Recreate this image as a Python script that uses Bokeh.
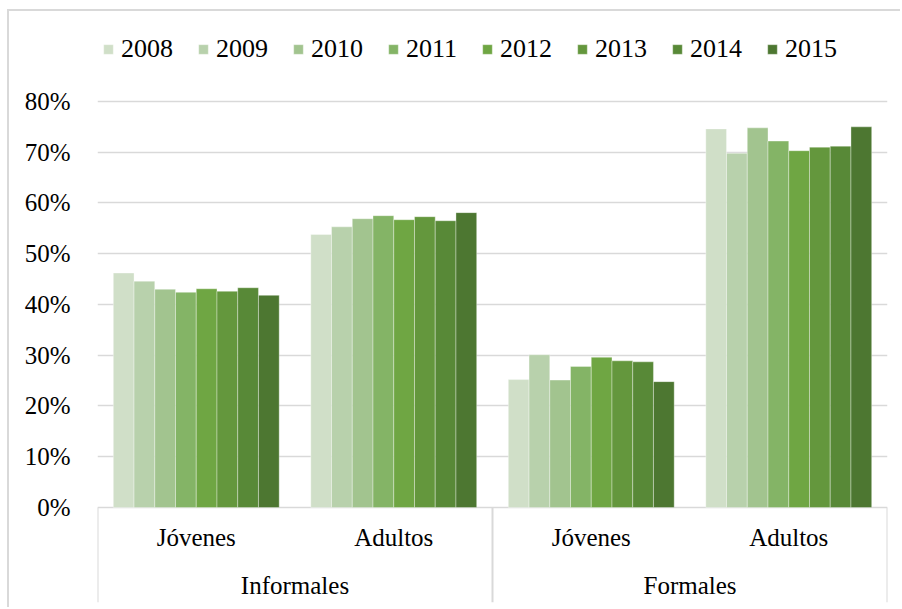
from bokeh.plotting import figure
from bokeh.models import FactorRange, ColumnDataSource, FixedTicker, NumeralTickFormatter
from bokeh.transform import dodge
from bokeh.core.properties import value
from bokeh.embed import file_html
from bokeh.resources import INLINE

# ---------------- data ----------------
groups = ["Informales", "Formales"]
subgroups = ["Jóvenes", "Adultos"]
years = ["2008", "2009", "2010", "2011", "2012", "2013", "2014", "2015"]

informales_jovenes = [0.462, 0.446, 0.430, 0.424, 0.431, 0.426, 0.433, 0.418]
informales_adultos = [0.538, 0.553, 0.569, 0.575, 0.567, 0.573, 0.565, 0.581]
formales_jovenes = [0.252, 0.301, 0.251, 0.278, 0.296, 0.289, 0.287, 0.248]
formales_adultos = [0.746, 0.698, 0.748, 0.722, 0.703, 0.710, 0.712, 0.750]

y_ticks = [0.0, 0.1, 0.2, 0.3, 0.4, 0.5, 0.6, 0.7, 0.8]

colors = ["#D0DFC8", "#B8D1AC", "#A2C48F", "#84B466",
          "#6FA643", "#64973D", "#588937", "#4D7731"]

# ---------------- build ----------------
factors = [(g, s) for g in groups for s in subgroups]
series_by_cat = [informales_jovenes, informales_adultos, formales_jovenes, formales_adultos]

data = {"cat": factors}
for i, y in enumerate(years):
    data[y] = [s[i] for s in series_by_cat]
src = ColumnDataSource(data)

FONT = "Liberation Serif"
GRID = "#D9D9D9"
Y_START, Y_END = -0.1872, 0.9773

p = figure(
    width=893, height=598,
    x_range=FactorRange(*factors, factor_padding=0, group_padding=0, subgroup_padding=0,
                        range_padding=0),
    y_range=(Y_START, Y_END),
    x_axis_location=None,
    output_backend="svg", toolbar_location=None,
    min_border_left=88, min_border_right=15, min_border_top=0, min_border_bottom=7,
    outline_line_color=None,
    margin=(9, 0, 0, 7),
)
p.styles = {"border-left": "2px solid #D9D9D9", "border-top": "2px solid #D9D9D9"}

n = len(years)
group_frac = 0.84
bar_w = group_frac / n
for i, (y, c) in enumerate(zip(years, colors)):
    off = -group_frac / 2 + bar_w * (i + 0.5)
    p.vbar(x=dodge("cat", off, range=p.x_range), top=y, bottom=0, width=bar_w,
           source=src, fill_color=c, line_color="white", line_alpha=0.35, line_width=1,
           legend_label=y)

# y axis
p.yaxis.ticker = FixedTicker(ticks=y_ticks)
p.yaxis.formatter = NumeralTickFormatter(format="0%")
p.yaxis.axis_line_color = None
p.yaxis.major_tick_line_color = None
p.yaxis.minor_tick_line_color = None
p.yaxis.major_label_standoff = 21
p.yaxis.major_label_text_font = FONT
p.yaxis.major_label_text_font_size = "25px"
p.yaxis.major_label_text_color = "#000000"

p.xgrid.grid_line_color = None
p.ygrid.ticker = FixedTicker(ticks=y_ticks)
p.ygrid.grid_line_color = GRID
p.ygrid.grid_line_width = 1.4

# category axis drawn inside the frame below zero
bounds = [0, len(subgroups), len(factors)]
p.segment(x0=bounds, x1=bounds, y0=[0] * 3, y1=[Y_START] * 3,
          line_color=GRID, line_width=2)

sub_src = ColumnDataSource(dict(x=factors, label=[f[1] for f in factors],
                                y=[-0.059] * len(factors)))
p.text(x="x", y="y", text="label", source=sub_src, text_align="center",
       text_baseline="middle", text_font=value(FONT), text_font_size="25px",
       text_color="#000000")

grp_src = ColumnDataSource(dict(x=groups, label=groups, y=[-0.153] * len(groups)))
p.text(x="x", y="y", text="label", source=grp_src, text_align="center",
       text_baseline="middle", text_font=value(FONT), text_font_size="25px",
       text_color="#000000")

# legend
lg = p.legend[0]
lg.orientation = "horizontal"
lg.location = (5, 538)
lg.padding = 0
lg.margin = 0
lg.spacing = 24
lg.border_line_color = None
lg.background_fill_alpha = 0
lg.glyph_width = 12
lg.glyph_height = 12
lg.label_standoff = 7
lg.label_text_font = FONT
lg.label_text_font_size = "26px"
lg.label_text_color = "#000000"

open("out.html", "w").write(file_html(p, INLINE))
